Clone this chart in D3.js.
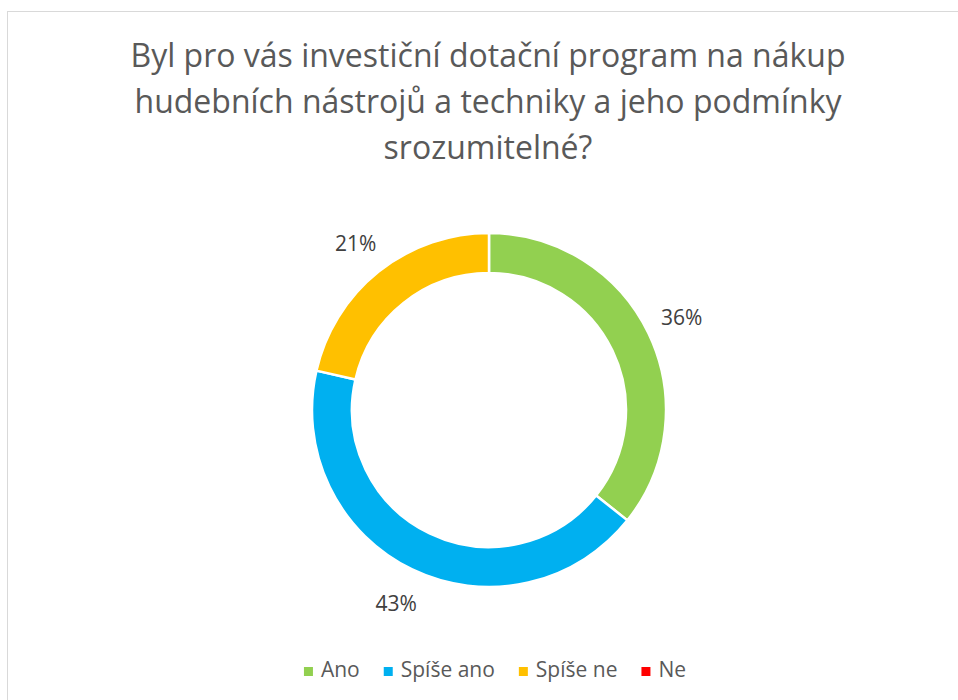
<!DOCTYPE html>
<html>
<head>
<meta charset="utf-8">
<script src="https://cdn.jsdelivr.net/npm/d3@7"></script>
<style>
  body { margin: 0; background: #fff; }
  text { font-family: "Open Sans", "Noto Sans", sans-serif; }
</style>
</head>
<body>
<div class="chart"></div>
<script>
let FRAME_WIDTH = 958;
let FRAME_HEIGHT = 700;

// data
let categories = ["Ano", "Spíše ano", "Spíše ne", "Ne"];
let values = [5, 6, 3, 0];
let colors = ["#92D050", "#00B0F0", "#FFC000", "#FF0000"];
let titleLines = ["Byl pro vás investiční dotační program na nákup",
                  "hudebních nástrojů a techniky a jeho podmínky",
                  "srozumitelné?"];

let FRAME = d3.select(".chart")
              .append("svg")
              .attr("width", FRAME_WIDTH)
              .attr("height", FRAME_HEIGHT);

// chart border
FRAME.append("rect")
     .attr("x", 7.5)
     .attr("y", 11.5)
     .attr("width", 1000)
     .attr("height", 1000)
     .attr("fill", "#fff")
     .attr("stroke", "#d9d9d9")
     .attr("stroke-width", 1);

// title
FRAME.append("text")
     .attr("text-anchor", "middle")
     .attr("font-size", "32px")
     .attr("fill", "#595959")
     .selectAll("tspan")
     .data(titleLines)
     .enter()
     .append("tspan")
       .attr("x", 488)
       .attr("y", (d, i) => 67 + i * 46)
       .text(d => d);

// donut
let CX = 489, CY = 410;
let OUTER = 177, INNER = 137;
let data = categories.map((c, i) => ({name: c, value: values[i], color: colors[i]}));
let total = d3.sum(values);

let pie = d3.pie().sort(null).value(d => d.value);
let arc = d3.arc().innerRadius(INNER).outerRadius(OUTER);
let labelArc = d3.arc().innerRadius(OUTER + 37).outerRadius(OUTER + 37);

let G = FRAME.append("g").attr("transform", "translate(" + CX + "," + CY + ")");
let arcs = pie(data).filter(d => d.data.value > 0);

G.selectAll("path")
 .data(arcs)
 .enter()
 .append("path")
   .attr("d", arc)
   .attr("fill", d => d.data.color)
   .attr("stroke", "#fff")
   .attr("stroke-width", 2.5);

// percent labels
G.selectAll(".lbl")
 .data(arcs)
 .enter()
 .append("text")
   .attr("class", "lbl")
   .attr("x", d => labelArc.centroid(d)[0])
   .attr("y", d => labelArc.centroid(d)[1])
   .attr("text-anchor", "middle")
   .attr("dominant-baseline", "central")
   .attr("font-size", "21px")
   .attr("fill", "#404040")
   .text(d => Math.round(d.data.value / total * 100) + "%");

// legend
let legend = FRAME.append("g");
let items = legend.selectAll("g")
                  .data(data)
                  .enter()
                  .append("g");
items.append("rect")
     .attr("width", 9)
     .attr("height", 9)
     .attr("y", -10)
     .attr("fill", d => d.color);
items.append("text")
     .attr("x", 17)
     .attr("y", 0)
     .attr("font-size", "21px")
     .attr("fill", "#595959")
     .text(d => d.name);

let GAP = 24;
let xPos = 0;
items.each(function() {
    let w = this.getBBox().width;
    d3.select(this).attr("transform", "translate(" + xPos + ",0)");
    xPos += w + GAP;
});
let legendWidth = xPos - GAP;
legend.attr("transform", "translate(" + (495 - legendWidth / 2) + ",677)");
</script>
</body>
</html>
